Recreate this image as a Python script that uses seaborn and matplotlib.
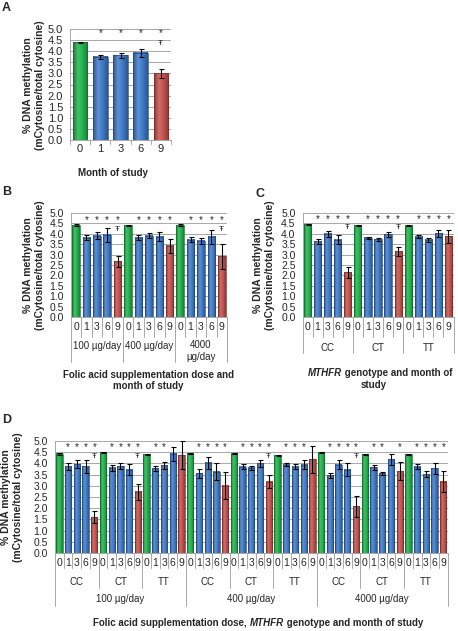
import numpy as np
import pandas as pd
import matplotlib
matplotlib.use("Agg")
import matplotlib.pyplot as plt
import matplotlib.colors as mcolors
import seaborn as sns

# -------------------------------
# Data
# -------------------------------
months = ["0", "1", "3", "6", "9"]
doses = ["100 µg/day", "400 µg/day", "4000 µg/day"]
genotypes = ["CC", "CT", "TT"]

# A: all women by month
a_mean = [4.40, 3.75, 3.82, 3.92, 3.00]
a_err = [0.03, 0.10, 0.12, 0.20, 0.22]
a_star = [0, 1, 1, 1, 1]
a_cross = [0, 0, 0, 0, 1]

# B: by dose (100, 400, 4000) and month
b_mean = [4.42, 3.82, 3.90, 3.95, 2.68,
          4.40, 3.82, 3.90, 3.87, 3.42,
          4.42, 3.72, 3.66, 3.85, 2.92]
b_err = [0.03, 0.14, 0.17, 0.33, 0.27,
         0.03, 0.10, 0.12, 0.22, 0.32,
         0.03, 0.12, 0.15, 0.33, 0.60]
b_star = [0, 1, 1, 1, 1] * 3
b_cross = [0, 0, 0, 0, 1,
           0, 0, 0, 0, 0,
           0, 0, 0, 0, 1]

# C: by MTHFR genotype and month
c_mean = [4.45, 3.63, 4.00, 3.72, 2.15,
          4.40, 3.80, 3.73, 3.98, 3.15,
          4.38, 3.86, 3.72, 4.02, 3.88]
c_err = [0.02, 0.12, 0.14, 0.22, 0.27,
         0.02, 0.07, 0.08, 0.12, 0.22,
         0.02, 0.08, 0.10, 0.18, 0.32]
c_star = [0, 1, 1, 1, 1] * 3
c_cross = [0, 0, 0, 0, 1,
           0, 0, 0, 0, 1,
           0, 0, 0, 0, 0]

# D: by dose, genotype and month
d_mean = [4.42, 3.87, 3.97, 3.87, 1.60,   # 100 CC
          4.50, 3.80, 3.88, 3.72, 2.73,   # 100 CT
          4.40, 3.78, 3.91, 4.42, 4.36,   # 100 TT
          4.45, 3.57, 4.02, 3.62, 3.00,   # 400 CC
          4.43, 3.86, 3.80, 4.00, 3.18,   # 400 CT
          4.37, 3.95, 3.86, 3.94, 4.19,   # 400 TT
          4.47, 3.47, 3.95, 3.72, 2.08,   # 4000 CC
          4.40, 3.82, 3.56, 4.18, 3.66,   # 4000 CT
          4.40, 3.86, 3.52, 3.78, 3.19]   # 4000 TT
d_err = [0.03, 0.15, 0.18, 0.30, 0.27,
         0.02, 0.12, 0.13, 0.25, 0.35,
         0.03, 0.10, 0.15, 0.32, 0.62,
         0.03, 0.20, 0.25, 0.38, 0.60,
         0.02, 0.10, 0.08, 0.15, 0.30,
         0.02, 0.08, 0.10, 0.20, 0.60,
         0.02, 0.12, 0.18, 0.28, 0.47,
         0.02, 0.10, 0.07, 0.25, 0.42,
         0.02, 0.12, 0.12, 0.25, 0.45]
d_star = [0, 1, 1, 1, 1,
          0, 1, 1, 1, 1,
          0, 1, 1, 0, 0,
          0, 1, 1, 1, 1,
          0, 1, 1, 1, 1,
          0, 1, 1, 1, 0,
          0, 1, 1, 1, 1,
          0, 1, 1, 0, 1,
          0, 1, 1, 1, 1]
d_cross = [0, 0, 0, 0, 1,
           0, 0, 0, 0, 1,
           0, 0, 0, 0, 0,
           0, 0, 0, 0, 0,
           0, 0, 0, 0, 1,
           0, 0, 0, 0, 0,
           0, 0, 0, 0, 1,
           0, 0, 0, 0, 0,
           0, 0, 0, 0, 0]

# -------------------------------
# Style
# -------------------------------
sns.set_style('white')
plt.rcParams['font.family'] = ['Liberation Sans', 'DejaVu Sans']

W, H = 458, 631
fig = plt.figure(figsize=(W / 100, H / 100), dpi=100)

pal = {'base': '#20b04a', 'mid': '#3d78c6', 'end': '#c24f4b'}
kind_of = {'0': 'base', '9': 'end'}
GRID = '#a8a8a8'
YLAB = "% DNA methylation\n(mCytosine/total cytosine)"


def rect(l, t, r, b):
    return [l / W, 1 - b / H, (r - l) / W, (b - t) / H]


def shade(c, f):
    # f < 1 darkens, f > 1 mixes toward white
    rgb = np.array(mcolors.to_rgb(c))
    if f <= 1:
        return tuple(rgb * f)
    return tuple(rgb + (1 - rgb) * (f - 1))


def draw_bars(ax, means, errs, stars, crosses, star_y, cross_y, tick_fs=7.5):
    n = len(means)
    labels = months * (n // 5)
    kinds = [kind_of.get(m, 'mid') for m in labels]
    df = pd.DataFrame({'slot': range(n), 'value': means, 'kind': kinds})
    sns.barplot(data=df, x='slot', y='value', hue='kind', palette=pal,
                dodge=False, width=0.72, saturation=1, errorbar=None,
                legend=False, ax=ax)
    # Excel-like horizontal gradient inside each bar
    for p in ax.patches:
        fc = p.get_facecolor()
        cmap = mcolors.LinearSegmentedColormap.from_list(
            '', [shade(fc, 0.72), shade(fc, 1.18), shade(fc, 1.0), shade(fc, 0.72)])
        x0, w, h = p.get_x(), p.get_width(), p.get_height()
        ax.imshow(np.linspace(0, 1, 64)[None, :], extent=[x0, x0 + w, 0, h],
                  cmap=cmap, aspect='auto', interpolation='bilinear', zorder=1.2)
        p.set_facecolor('none')
        p.set_edgecolor(shade(fc, 0.6))
        p.set_linewidth(0.5)
        p.set_zorder(1.4)
    ax.errorbar(np.arange(n), means, yerr=errs, fmt='none', ecolor='black',
                elinewidth=0.8, capsize=1.8, capthick=0.8, zorder=3)
    for i in range(n):
        if stars[i]:
            ax.text(i, star_y, "*", ha='center', va='center', fontsize=7)
        if crosses[i]:
            ax.text(i, cross_y, "Ŧ", ha='center', va='center', fontsize=6)
    ax.set_xlim(-0.5, n - 0.5)
    ax.set_ylim(0, 5)
    ax.set_yticks(np.arange(0, 5.01, 0.5))
    ax.set_yticklabels([f"{v:.1f}" for v in np.arange(0, 5.01, 0.5)], fontsize=tick_fs)
    ax.set_xticks(range(n))
    ax.set_xticklabels(labels, fontsize=tick_fs)
    ax.tick_params(axis='x', length=0, pad=3.5)
    ax.tick_params(axis='y', length=3, width=0.7, color=GRID, pad=2)
    ax.set_xlabel('')
    ax.set_ylabel('')
    ax.grid(axis='y', color=GRID, lw=0.7)
    ax.set_axisbelow(True)
    sns.despine(ax=ax)
    for s in ('left', 'bottom'):
        ax.spines[s].set_color(GRID)
        ax.spines[s].set_linewidth(0.7)


def vlines(ax, xs, depth_px):
    h = ax.bbox.height
    for x in xs:
        ax.plot([x, x], [0, -depth_px / h], transform=ax.get_xaxis_transform(),
                color=GRID, lw=0.7, clip_on=False)


def group_text(ax, x, below_px, label, fs=7):
    h = ax.bbox.height
    ax.text(x, -below_px / h, label, transform=ax.get_xaxis_transform(),
            ha='center', va='center', fontsize=fs, linespacing=1.2)


def mixed_line(xc, y, parts, fs=7):
    r = fig.canvas.get_renderer()
    texts = [fig.text(0, 1 - y / H, s, fontsize=fs, fontweight='bold',
                      style=st, va='center') for s, st in parts]
    widths = [t.get_window_extent(r).width for t in texts]
    x = xc - sum(widths) / 2
    for t, w in zip(texts, widths):
        t.set_x(x / W)
        x += w


def ylab(xc, yc):
    fig.text(xc / W, 1 - yc / H, YLAB, rotation=90, ha='center', va='center',
             fontsize=7.5, fontweight='bold', linespacing=1.15)


def letter(x, y, s):
    fig.text(x / W, 1 - y / H, s, fontsize=9, fontweight='bold', ha='left', va='top')


# -------------------------------
# Panel A
# -------------------------------
axA = fig.add_axes(rect(70, 29, 171, 140))
draw_bars(axA, a_mean, a_err, a_star, a_cross, 4.80, 4.35, tick_fs=8)
axA.tick_params(axis='x', pad=3)
vlines(axA, np.arange(-0.5, 5, 1), 4)
ylab(34, 85)
letter(2, 2, "A")
fig.text(113 / W, 1 - 173 / H, "Month of study", fontsize=7, fontweight='bold',
         ha='center', va='center')

# -------------------------------
# Panel B
# -------------------------------
axB = fig.add_axes(rect(70.8, 213, 227, 317))
draw_bars(axB, b_mean, b_err, b_star, b_cross, 4.68, 4.20)
vlines(axB, np.arange(-0.5, 15, 1), 20)
vlines(axB, [-0.5, 4.5, 9.5, 14.5], 45)
group_text(axB, 2, 29, doses[0])
group_text(axB, 7, 29, doses[1])
group_text(axB, 12, 34, doses[2].replace(" ", "\n"))
ylab(34, 265)
letter(2, 186, "B")
mixed_line(148, 375, [("Folic acid supplementation dose and", 'normal')])
mixed_line(148, 386, [("month of study", 'normal')])

# -------------------------------
# Panel C
# -------------------------------
axC = fig.add_axes(rect(302.5, 213, 453.5, 317))
draw_bars(axC, c_mean, c_err, c_star, c_cross, 4.70, 4.28)
vlines(axC, np.arange(-0.5, 15, 1), 20)
vlines(axC, [-0.5, 4.5, 9.5, 14.5], 36)
for g, gt in enumerate(genotypes):
    group_text(axC, 2 + 5 * g, 31, gt)
ylab(264, 265)
letter(255, 188, "C")
mixed_line(380, 373, [("MTHFR", 'italic'), (" genotype and month of", 'normal')])
mixed_line(374, 385, [("study", 'normal')])

# -------------------------------
# Panel D
# -------------------------------
axD = fig.add_axes(rect(55, 441, 447.7, 553))
draw_bars(axD, d_mean, d_err, d_star, d_cross, 4.73, 4.33, tick_fs=7.5)
vlines(axD, np.arange(-0.5, 45, 1), 15)
vlines(axD, np.arange(-0.5, 45, 5), 35)
vlines(axD, [-0.5, 14.5, 29.5, 44.5], 53)
for k in range(9):
    group_text(axD, 2 + 5 * k, 29, genotypes[k % 3])
for d, dose in enumerate(doses):
    group_text(axD, 7 + 15 * d, 46, dose)
ylab(12, 497)
letter(2, 414, "D")
mixed_line(258, 623, [("Folic acid supplementation dose, ", 'normal'),
                      ("MTHFR", 'italic'),
                      (" genotype and month of study", 'normal')])

fig.savefig("out.png", dpi=100)
